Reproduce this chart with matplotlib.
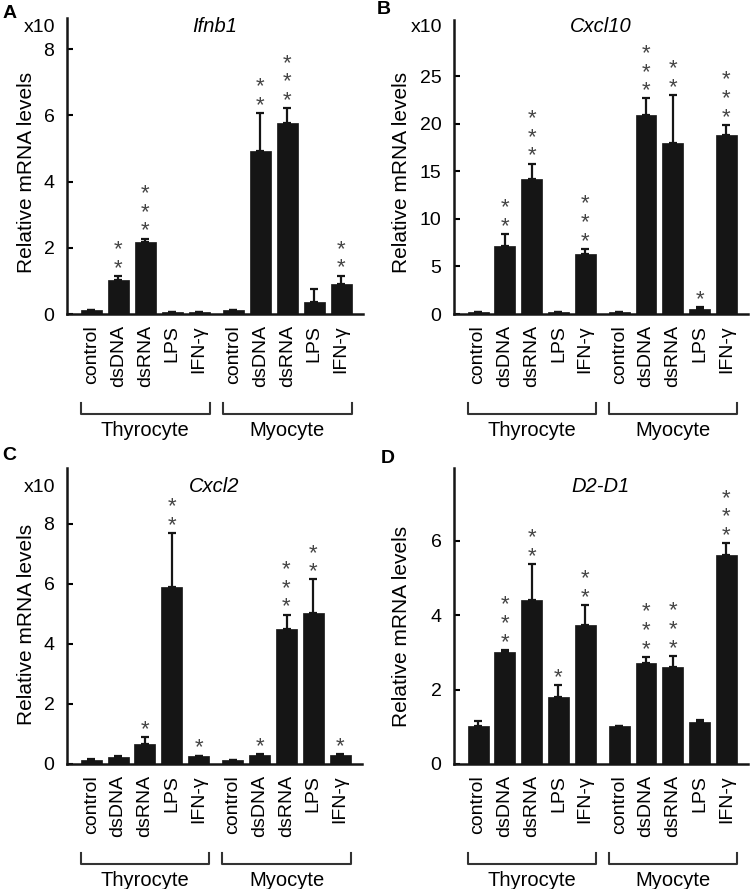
import numpy as np
import matplotlib
matplotlib.use("Agg")
import matplotlib.pyplot as plt
from matplotlib.transforms import blended_transform_factory
from matplotlib.lines import Line2D

plt.rcParams['font.family'] = ['Liberation Sans', 'DejaVu Sans']

# ---------------- data ----------------
treatments = ["control", "dsDNA", "dsRNA", "LPS", "IFN-γ"]
groups = ["Thyrocyte", "Myocyte"]

ifnb1_mean = [0.12, 1.02, 2.17, 0.05, 0.05, 0.11, 4.93, 5.77, 0.37, 0.92]
ifnb1_err = [0.01, 0.12, 0.11, 0.0, 0.0, 0.01, 1.14, 0.44, 0.40, 0.24]
ifnb1_stars = [0, 2, 3, 0, 0, 0, 2, 3, 0, 2]

cxcl10_mean = [0.2, 7.1, 14.2, 0.2, 6.35, 0.2, 20.9, 17.95, 0.56, 18.8]
cxcl10_err = [0.0, 1.3, 1.6, 0.0, 0.5, 0.0, 1.75, 5.05, 0.14, 1.05]
cxcl10_stars = [0, 2, 3, 0, 3, 0, 3, 2, 1, 3]

cxcl2_mean = [0.14, 0.23, 0.68, 5.88, 0.28, 0.13, 0.30, 4.50, 5.01, 0.31]
cxcl2_err = [0.01, 0.02, 0.21, 1.80, 0.0, 0.0, 0.04, 0.47, 1.13, 0.03]
cxcl2_stars = [0, 0, 1, 2, 1, 0, 1, 3, 2, 1]

d2d1_mean = [1.01, 3.02, 4.41, 1.79, 3.72, 1.01, 2.71, 2.61, 1.13, 5.60]
d2d1_err = [0.15, 0.05, 0.97, 0.33, 0.54, 0.02, 0.16, 0.29, 0.05, 0.33]
d2d1_stars = [0, 3, 2, 1, 2, 0, 3, 3, 0, 3]

panels = [
    dict(letter="A", title="Ifnb1", mean=ifnb1_mean, err=ifnb1_err, stars=ifnb1_stars,
         ylim=8.94, yticks=[0, 2, 4, 6, 8], scale="x10",
         rect=(67, 18, 296, 296), title_dy=9, scale_dy=9, letter_xy=(10, 13), ylab_dx=-40, ylab_dy=6),
    dict(letter="B", title="Cxcl10", mean=cxcl10_mean, err=cxcl10_err, stars=cxcl10_stars,
         ylim=30.9, yticks=[0, 5, 10, 15, 20, 25], scale="x10",
         rect=(454, 20, 294, 294), title_dy=7, scale_dy=7, letter_xy=(384, 10), ylab_dx=-52, ylab_dy=5),
    dict(letter="C", title="Cxcl2", mean=cxcl2_mean, err=cxcl2_err, stars=cxcl2_stars,
         ylim=9.85, yticks=[0, 2, 4, 6, 8], scale="x10",
         rect=(67, 468, 295, 296), title_dy=19, scale_dy=19, letter_xy=(9, 455), ylab_dx=-40, ylab_dy=8),
    dict(letter="D", title="D2-D1", mean=d2d1_mean, err=d2d1_err, stars=d2d1_stars,
         ylim=7.95, yticks=[0, 2, 4, 6], scale=None,
         rect=(454, 468, 294, 296), title_dy=19, scale_dy=19, letter_xy=(388, 459), ylab_dx=-52, ylab_dy=10),
]

W, H = 750, 889
fig = plt.figure(figsize=(W / 100, H / 100), dpi=100)

xpos = np.r_[np.arange(5), np.arange(5) + 5.27]
labels = treatments + treatments
bar_w = 0.78
ink = "#151515"

for p in panels:
    l, t, w, h = p["rect"]
    ax = fig.add_axes([l / W, 1 - (t + h) / H, w / W, h / H])
    mean = np.array(p["mean"])
    err = np.array(p["err"])
    ax.bar(xpos, mean, width=bar_w, color=ink, edgecolor=ink, linewidth=0.5, zorder=2)
    ax.errorbar(xpos, mean, yerr=[np.zeros_like(err), err], fmt="none", ecolor=ink,
                elinewidth=1.6, capsize=3, capthick=1.6, zorder=3)
    ax.set_xlim(-0.9, 10.08)
    ax.set_ylim(0, p["ylim"])
    ax.set_yticks(p["yticks"])
    ax.set_xticks(xpos)
    ax.set_xticklabels(labels, rotation=90, fontsize=14, va="top", ha="center")
    ax.tick_params(axis="x", length=0, pad=8)
    ax.tick_params(axis="y", direction="in", length=4, width=1.5, labelsize=14, pad=9)
    for s in ["top", "right"]:
        ax.spines[s].set_visible(False)
    for s in ["left", "bottom"]:
        ax.spines[s].set_linewidth(1.8)
        ax.spines[s].set_color(ink)
    ax.set_ylabel("Relative mRNA levels", fontsize=15, va="center", ha="center")
    ax.yaxis.set_label_coords(p["ylab_dx"] / w, 0.5 - p["ylab_dy"] / h)

    # significance stars (one stacked text per bar)
    tops = mean + err
    for xi, ti, n in zip(xpos, tops, p["stars"]):
        if n == 0:
            continue
        ax.annotate("\n".join(["*"] * n), xy=(xi, ti), xytext=(0, -3),
                    textcoords="offset pixels", ha="center", va="bottom",
                    multialignment="center", linespacing=0.86, fontsize=16,
                    color="#444444", annotation_clip=False)

    # titles
    ax.text(0.5, 1 - p["title_dy"] / h, p["title"], transform=ax.transAxes, ha="center",
            va="center", fontsize=14.5, style="italic")
    if p["scale"]:
        ax.text(-12 / w, 1 - p["scale_dy"] / h, p["scale"], transform=ax.transAxes,
                ha="right", va="center", fontsize=14)

    # group brackets
    tr = blended_transform_factory(ax.transData, ax.transAxes)
    yb = -100 / h
    yt = -89 / h
    for gi, g in enumerate(groups):
        x0 = xpos[gi * 5] - bar_w / 2
        x1 = xpos[gi * 5 + 4] + bar_w / 2
        ax.add_line(Line2D([x0, x0, x1, x1], [yt, yb, yb, yt], transform=tr, color="#333333",
                           lw=1.5, clip_on=False))
        ax.text((x0 + x1) / 2, -116 / h, g, transform=tr, ha="center", va="center",
                fontsize=14.5)

    lx, ly = p["letter_xy"]
    fig.text(lx / W, 1 - ly / H, p["letter"], ha="center", va="center", fontsize=14,
             fontweight="bold")

fig.savefig("out.png", dpi=100)
